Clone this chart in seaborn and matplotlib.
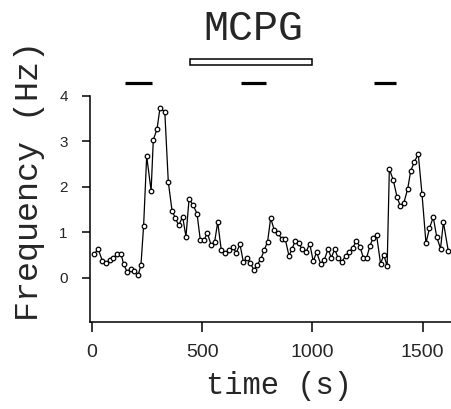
import numpy as np
import pandas as pd
import matplotlib
matplotlib.use("Agg")
import matplotlib.pyplot as plt
import seaborn as sns
from matplotlib.patches import Rectangle

# ---- data ----
time_s = [10, 29, 48, 65, 83, 98, 116, 133, 145, 160,
          177, 193, 211, 223, 235, 249, 269, 279, 296, 309,
          331, 347, 364, 379, 394, 412, 427, 441, 459, 477,
          492, 509, 524, 541, 557, 571, 587, 605, 624, 639,
          655, 672, 687, 704, 719, 735, 750, 767, 782, 797,
          811, 827, 843, 861, 877, 894, 908, 922, 938, 953,
          971, 988, 1004, 1019, 1038, 1054, 1071, 1086, 1101, 1117,
          1134, 1151, 1167, 1183, 1199, 1216, 1231, 1246, 1261, 1276,
          1291, 1309, 1324, 1339, 1349, 1367, 1384, 1399, 1415, 1432,
          1446, 1462, 1480, 1497, 1515, 1531, 1548, 1564, 1581, 1594,
          1616]
freq_hz = [0.51, 0.63, 0.37, 0.32, 0.39, 0.44, 0.51, 0.51, 0.29, 0.13,
           0.19, 0.15, 0.07, 0.28, 1.14, 2.67, 1.91, 3.03, 3.27, 3.72,
           3.65, 2.10, 1.47, 1.31, 1.15, 1.34, 0.90, 1.73, 1.60, 1.41,
           0.83, 0.83, 0.98, 0.72, 0.79, 1.22, 0.61, 0.54, 0.61, 0.67,
           0.55, 0.73, 0.35, 0.43, 0.32, 0.17, 0.28, 0.42, 0.61, 0.79,
           1.31, 1.05, 0.99, 0.85, 0.85, 0.48, 0.63, 0.81, 0.76, 0.63,
           0.56, 0.75, 0.36, 0.56, 0.30, 0.39, 0.63, 0.44, 0.63, 0.43,
           0.35, 0.48, 0.57, 0.65, 0.81, 0.68, 0.44, 0.44, 0.70, 0.88,
           0.94, 0.31, 0.50, 0.25, 2.39, 2.14, 1.77, 1.57, 1.65, 1.95,
           2.35, 2.54, 2.72, 1.84, 0.76, 1.09, 1.33, 0.89, 0.64, 1.22,
           0.59]

drug_label = "MCPG"
drug_start = 445
drug_end = 1000
stim_starts = [151, 675, 1281]
stim_ends = [272, 788, 1379]

x_ticks = [0, 500, 1000, 1500]
y_ticks = [0, 1, 2, 3, 4]

df = pd.DataFrame({"time": time_s, "freq": freq_hz})

sns.set_style("ticks")
plt.rcParams["font.family"] = ["Liberation Sans", "DejaVu Sans"]

fig = plt.figure(figsize=(4.52, 4.09), dpi=100)
ax = fig.add_axes([90 / 452, 1 - 322 / 409, 362 / 452, (322 - 95.7) / 409])

sns.lineplot(data=df, x="time", y="freq", ax=ax, color="black",
             linewidth=0.9, marker="o", markersize=3.3,
             markerfacecolor="white", markeredgecolor="black",
             markeredgewidth=0.9)

ax.set_xlim(-8, 1633)
ax.set_ylim(-0.974, 4.0)
ax.set_xticks(x_ticks)
ax.set_yticks(y_ticks)
ax.tick_params(axis="x", direction="out", length=7, width=1.1, pad=9,
               labelsize=14, color="black")
ax.tick_params(axis="y", direction="out", length=6, width=1.1, pad=10,
               labelsize=11, color="black")
for side in ["top", "right"]:
    ax.spines[side].set_visible(False)
for side in ["left", "bottom"]:
    ax.spines[side].set_linewidth(1.1)
    ax.spines[side].set_color("black")

mono = ["Liberation Mono", "DejaVu Sans Mono"]
ax.set_xlabel("time (s)", fontsize=22, family=mono, va="center")
ax.xaxis.set_label_coords(0.521, -0.283)
ax.set_ylabel("Frequency (Hz)", fontsize=24, family=mono, va="center")
ax.yaxis.set_label_coords(-0.166, 0.623)

# stimulus bars
ax.hlines([4.27] * len(stim_starts), stim_starts, stim_ends, color="black",
          linewidth=2.3, clip_on=False)
# drug application bar (open rectangle)
ax.add_patch(Rectangle((drug_start, 4.68), drug_end - drug_start, 0.12,
                       facecolor="white", edgecolor="black", linewidth=1.1,
                       clip_on=False))
ax.text((drug_start + drug_end) / 2 + 10, 5.47, drug_label, ha="center",
        va="center", fontsize=30, family=mono)

fig.savefig("out.png", dpi=100, facecolor="white")
